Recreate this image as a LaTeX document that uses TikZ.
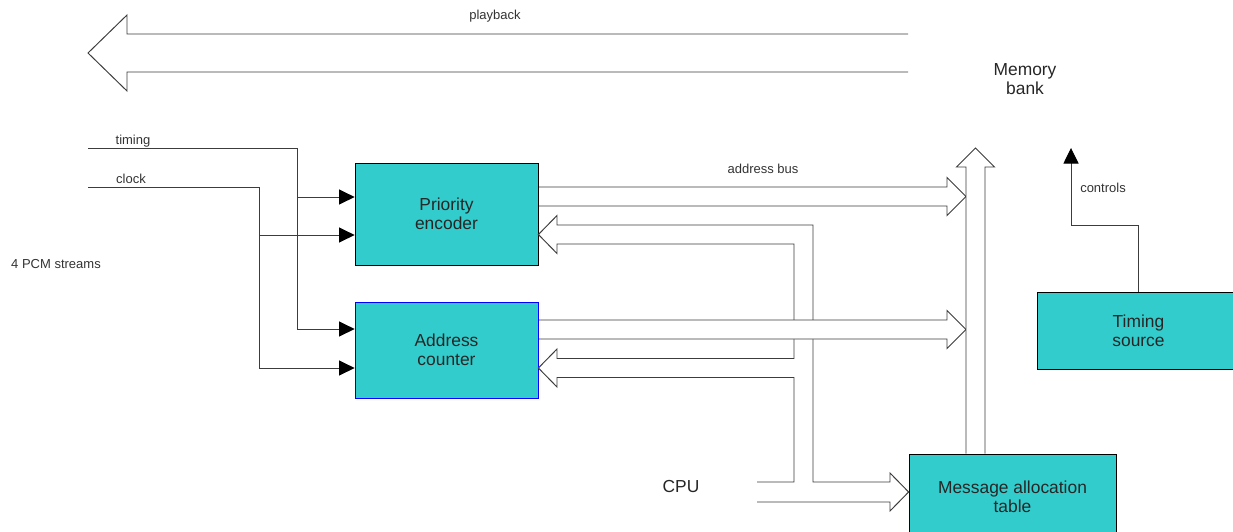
\documentclass[tikz,border=0pt]{standalone}
\usepackage{fontspec}
\setmainfont{Liberation Sans}
\usetikzlibrary{arrows.meta}
\definecolor{boxfill}{RGB}{51,204,204}
\definecolor{linegray}{RGB}{60,60,60}
\begin{document}
\begin{tikzpicture}[x=0.02cm,y=-0.02cm]

      % Styles for the boxes, the thin signal lines and the hollow bus arrows
      \tikzstyle{block}=[draw=black,fill=boxfill,line width=0.45pt,inner sep=0pt,align=center,text=black!85,font=\fontsize{9.9}{10.6}\selectfont]
      \tikzstyle{sig}=[draw=linegray,line width=0.55pt,-{Triangle[length=0.31cm,width=0.3cm,color=black]}]
      \tikzstyle{bus}=[draw=linegray,fill=white,line width=0.55pt]
      \tikzstyle{small}=[inner sep=0pt,text=black!80,font=\fontsize{7.4}{8.5}\selectfont]
      \tikzstyle{big}=[inner sep=0pt,align=center,text=black!85,font=\fontsize{9.9}{10.4}\selectfont]

      % One unit is one pixel of the page
      \def\px{0.02cm}

      \useasboundingbox (0,0) rectangle (1233,531);
      \clip (0,0) rectangle (1233,531);

      % Boxes
      \node[block,minimum width=183*\px,minimum height=102*\px] (pe) at (446.5,214) {Priority\\encoder};
      \node[block,draw=blue,minimum width=183*\px,minimum height=96*\px] (ac) at (446.5,350) {Address\\counter};
      \node[block,minimum width=207*\px,minimum height=86*\px] (mat) at (1012.5,497) {Message allocation\\table};
      \node[block,minimum width=203*\px,minimum height=77*\px] (ts) at (1138.5,330.5) {Timing\\source};

      % Labels
      \node[small] (playback) at (495,16) {playback};
      \node[big] (membank) at (1025,79) {Memory\\bank};
      \node[small] (timing) at (133,141) {timing};
      \node[small] (clock) at (131,179) {clock};
      \node[small] (pcm) at (56,264) {4 PCM streams};
      \node[small] (addrbus) at (763,169) {address bus};
      \node[small] (controls) at (1103,188) {controls};
      \node[big] (cpu) at (681,487) {CPU};

      % Free ends of the timing and clock lines
      \coordinate (tin) at (88,148);
      \coordinate (cin) at (88,187);

      % timing and clock into both boxes
      \draw[sig] (tin) -- (297,148) -- (297,329) -- (ac.west |- 0,329);
      \draw[sig] (297,197) -- (pe.west |- 0,197);
      \draw[sig] (cin) -- (259,187) -- (259,368) -- (ac.west |- 0,368);
      \draw[sig] (259,235) -- (pe.west |- 0,235);

      % controls up towards the memory bank
      \draw[sig] (ts.north) -- (1138.5,225) -| (1071,148);

      % playback bus
      \draw[bus] (908,34) -- (127,34) -- (127,15) -- (88,53) -- (127,91) -- (127,72) -- (908,72);

      % CPU bus: into the table and back into both boxes
      \draw[bus] (757,482) -- (794,482) -- (794,377.5) -- (557,377.5) -- (557,387) -- (ac.east |- 0,368)
            -- (557,349) -- (557,358.5) -- (794,358.5) -- (794,244) -- (557,244) -- (557,253.5)
            -- (pe.east |- 0,234.5) -- (557,215.5) -- (557,225) -- (813,225) -- (813,482) -- (890,482)
            -- (890,473) -- (mat.west |- 0,492) -- (890,511) -- (890,502) -- (757,502);

      % address bus out of both boxes
      \draw[bus] (539,187) -- (947,187) -- (947,177.5) -- (966,196.5) -- (947,215.5) -- (947,206) -- (539,206);
      \draw[bus] (539,320) -- (947,320) -- (947,310.5) -- (966,329.5) -- (947,348.5) -- (947,339) -- (539,339);

      % bus from the table up to the memory bank
      \draw[bus] (mat.north -| 966,0) -- (966,167) -- (956.5,167) -- (975.5,148) -- (994.5,167) -- (985,167) -- (mat.north -| 985,0);

\end{tikzpicture}
\end{document}
